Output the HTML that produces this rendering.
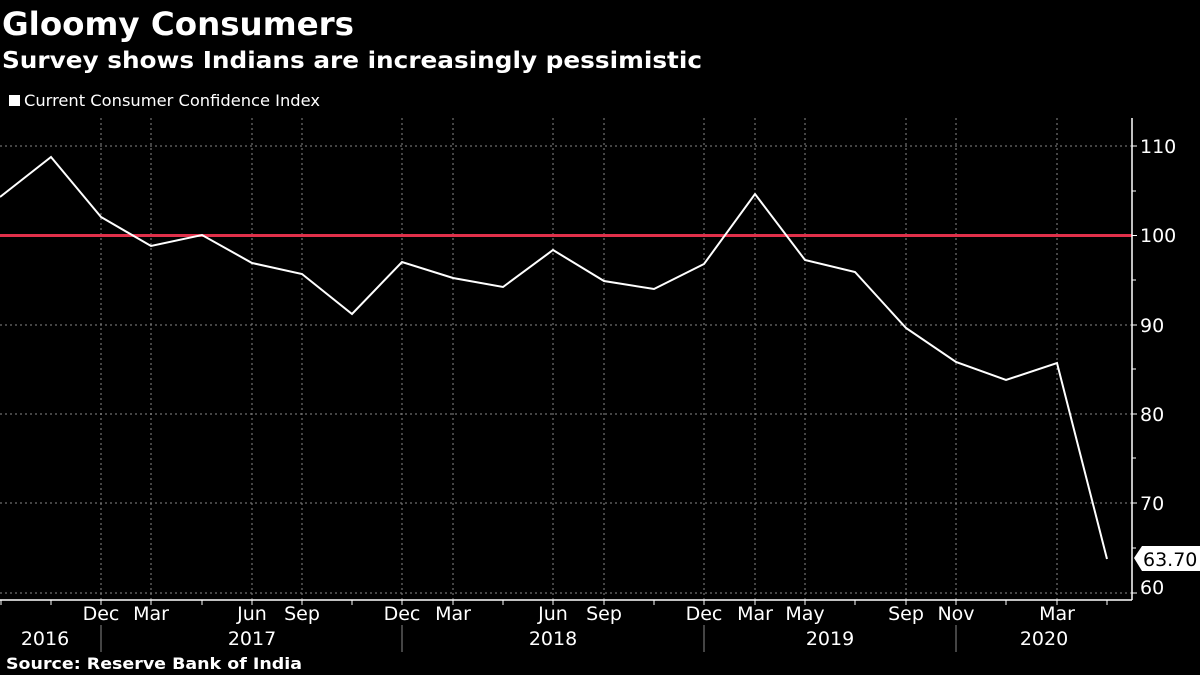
<!DOCTYPE html>
<html><head><style>
body{margin:0;background:#000;width:1200px;height:675px;overflow:hidden;font-family:"DejaVu Sans","Liberation Sans",sans-serif;color:#fff}
</style></head><body>
<svg width="1200" height="675" xmlns="http://www.w3.org/2000/svg" style="position:absolute;left:0;top:0">
<text x="2" y="35" font-family="DejaVu Sans" font-weight="bold" font-size="32" fill="#fff" textLength="352" lengthAdjust="spacingAndGlyphs">Gloomy Consumers</text>
<text x="2" y="68" font-family="DejaVu Sans" font-weight="bold" font-size="23" fill="#fff" textLength="700" lengthAdjust="spacingAndGlyphs">Survey shows Indians are increasingly pessimistic</text>
<rect x="9" y="95" width="11" height="11" fill="#fff"/>
<text x="24" y="106" font-family="DejaVu Sans" font-size="16" fill="#fff" textLength="296" lengthAdjust="spacingAndGlyphs">Current Consumer Confidence Index</text>
<g stroke="#888" stroke-width="1" stroke-dasharray="2,3">
<line x1="0" y1="146" x2="1132" y2="146"/><line x1="0" y1="325" x2="1132" y2="325"/><line x1="0" y1="414" x2="1132" y2="414"/><line x1="0" y1="503" x2="1132" y2="503"/><line x1="0" y1="593" x2="1132" y2="593"/>
<line x1="101" y1="118" x2="101" y2="600"/><line x1="151" y1="118" x2="151" y2="600"/><line x1="252" y1="118" x2="252" y2="600"/><line x1="302" y1="118" x2="302" y2="600"/><line x1="402" y1="118" x2="402" y2="600"/><line x1="453" y1="118" x2="453" y2="600"/><line x1="553" y1="118" x2="553" y2="600"/><line x1="604" y1="118" x2="604" y2="600"/><line x1="704" y1="118" x2="704" y2="600"/><line x1="755" y1="118" x2="755" y2="600"/><line x1="805" y1="118" x2="805" y2="600"/><line x1="906" y1="118" x2="906" y2="600"/><line x1="956" y1="118" x2="956" y2="600"/><line x1="1057" y1="118" x2="1057" y2="600"/>
</g>
<line x1="0" y1="235.5" x2="1132" y2="235.5" stroke="#e0304a" stroke-width="3"/>
<polyline fill="none" stroke="#fff" stroke-width="2" points="0,197 51,157 101,217 151,246 202,235 252,263 302,274 352,314 402,262 453,278 503,287 553,250 604,281 654,289 704,264 755,194 805,260 855,272 906,328 956,362 1006,380 1057,363 1107,559"/>
<line x1="1132" y1="118" x2="1132" y2="600" stroke="#fff" stroke-width="1.5"/>
<line x1="0" y1="600" x2="1132" y2="600" stroke="#fff" stroke-width="1.5"/>
<g stroke="#fff" stroke-width="1">
<line x1="1132" y1="146" x2="1137" y2="146"/><line x1="1132" y1="191" x2="1136" y2="191"/><line x1="1132" y1="235.5" x2="1137" y2="235.5"/><line x1="1132" y1="280" x2="1136" y2="280"/><line x1="1132" y1="325" x2="1137" y2="325"/><line x1="1132" y1="369" x2="1136" y2="369"/><line x1="1132" y1="414" x2="1137" y2="414"/><line x1="1132" y1="458" x2="1136" y2="458"/><line x1="1132" y1="503" x2="1137" y2="503"/><line x1="1132" y1="548" x2="1136" y2="548"/><line x1="1132" y1="593" x2="1137" y2="593"/>
<line x1="1" y1="600" x2="1" y2="605"/><line x1="51" y1="600" x2="51" y2="605"/><line x1="101" y1="600" x2="101" y2="605"/><line x1="151" y1="600" x2="151" y2="605"/><line x1="202" y1="600" x2="202" y2="605"/><line x1="252" y1="600" x2="252" y2="605"/><line x1="302" y1="600" x2="302" y2="605"/><line x1="352" y1="600" x2="352" y2="605"/><line x1="402" y1="600" x2="402" y2="605"/><line x1="453" y1="600" x2="453" y2="605"/><line x1="503" y1="600" x2="503" y2="605"/><line x1="553" y1="600" x2="553" y2="605"/><line x1="604" y1="600" x2="604" y2="605"/><line x1="654" y1="600" x2="654" y2="605"/><line x1="704" y1="600" x2="704" y2="605"/><line x1="755" y1="600" x2="755" y2="605"/><line x1="805" y1="600" x2="805" y2="605"/><line x1="855" y1="600" x2="855" y2="605"/><line x1="906" y1="600" x2="906" y2="605"/><line x1="956" y1="600" x2="956" y2="605"/><line x1="1006" y1="600" x2="1006" y2="605"/><line x1="1057" y1="600" x2="1057" y2="605"/><line x1="1107" y1="600" x2="1107" y2="605"/>
</g>
<g stroke="#888" stroke-width="1"><line x1="101" y1="625" x2="101" y2="652"/><line x1="402" y1="625" x2="402" y2="652"/><line x1="704" y1="625" x2="704" y2="652"/><line x1="956" y1="625" x2="956" y2="652"/></g>
<g font-family="DejaVu Sans" font-size="19" fill="#fff">
<text x="1140" y="153">110</text><text x="1140" y="242">100</text><text x="1140" y="332">90</text><text x="1140" y="421">80</text><text x="1140" y="510">70</text><text x="1140" y="594">60</text>
</g>
<polygon points="1134,558 1142,546 1200,546 1200,571 1142,571" fill="#fff"/>
<text x="1143" y="566" font-family="DejaVu Sans" font-size="19" fill="#000">63.70</text>
<g font-family="DejaVu Sans" font-size="19" fill="#fff" text-anchor="middle">
<text x="101" y="620">Dec</text><text x="151" y="620">Mar</text><text x="252" y="620">Jun</text><text x="302" y="620">Sep</text><text x="402" y="620">Dec</text><text x="453" y="620">Mar</text><text x="553" y="620">Jun</text><text x="604" y="620">Sep</text><text x="704" y="620">Dec</text><text x="755" y="620">Mar</text><text x="805" y="620">May</text><text x="906" y="620">Sep</text><text x="956" y="620">Nov</text><text x="1057" y="620">Mar</text>
<text x="45" y="645">2016</text><text x="252" y="645">2017</text><text x="553" y="645">2018</text><text x="830" y="645">2019</text><text x="1044" y="645">2020</text>
</g>
<text x="6" y="669" font-family="DejaVu Sans" font-weight="bold" font-size="16" fill="#fff" textLength="296" lengthAdjust="spacingAndGlyphs">Source: Reserve Bank of India</text>
</svg>
</body></html>
